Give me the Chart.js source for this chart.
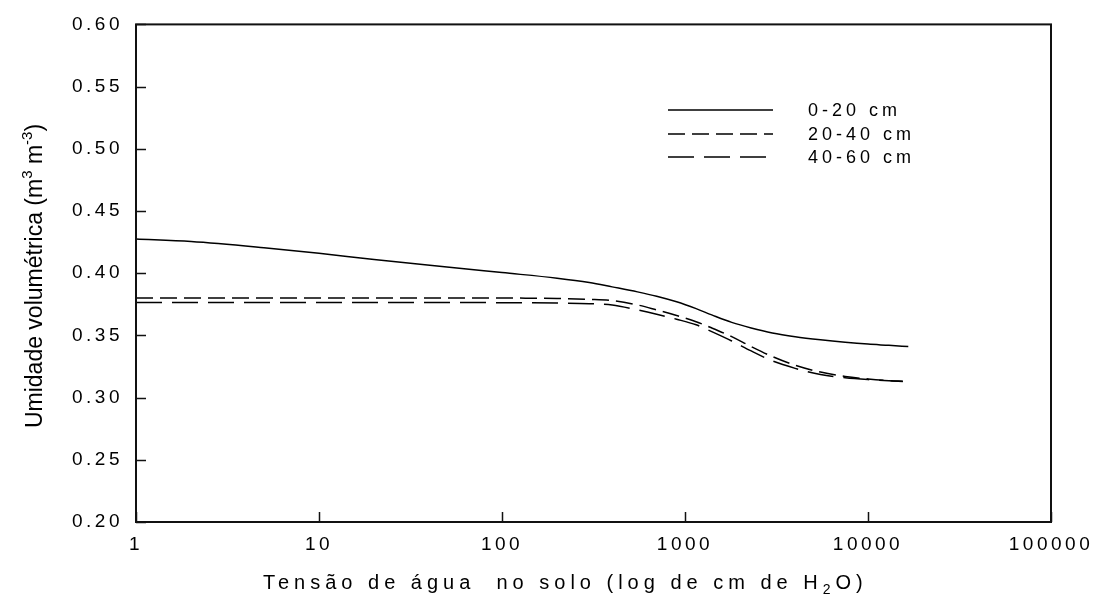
<!DOCTYPE html>
<html>
<head>
<meta charset="utf-8">
<script src="https://cdn.jsdelivr.net/npm/chart.js@4.4.1/dist/chart.umd.min.js"></script>
<style>
  html, body { margin: 0; padding: 0; background: #fff; }
  canvas { display: block; }
</style>
</head>
<body>
<canvas id="c" width="1100" height="600"></canvas>
<script>
// Soil water retention curves by depth
const tensionSolid  = [1, 2, 5, 10, 20, 50, 100, 200, 300, 400, 550, 700, 900, 1150, 1400, 1800, 2300, 3000, 4000, 5500, 7500, 10000, 13000, 16600];
const tensionDashed = [1, 2, 5, 10, 20, 50, 100, 200, 300, 400, 550, 700, 900, 1150, 1400, 1800, 2300, 3000, 4000, 5500, 7500, 10000, 13000, 15500];

const theta0_20  = [0.4275, 0.4255, 0.4205, 0.416, 0.411, 0.405, 0.4005, 0.396, 0.3925, 0.389, 0.385, 0.3815, 0.377, 0.3715, 0.3665, 0.3605, 0.356, 0.352, 0.349, 0.3465, 0.3445, 0.343, 0.342, 0.341];
const theta20_40 = [0.380, 0.380, 0.380, 0.380, 0.380, 0.380, 0.380, 0.3797, 0.379, 0.378, 0.3745, 0.3705, 0.366, 0.361, 0.356, 0.349, 0.341, 0.333, 0.326, 0.3205, 0.317, 0.315, 0.3137, 0.3132];
const theta40_60 = [0.3765, 0.3765, 0.3765, 0.3765, 0.3764, 0.3764, 0.3763, 0.376, 0.3755, 0.3745, 0.3705, 0.367, 0.363, 0.3585, 0.353, 0.3455, 0.3375, 0.3295, 0.3235, 0.3185, 0.316, 0.3145, 0.3135, 0.313];

const seriesLabels = ['0-20 cm', '20-40 cm', '40-60 cm'];
const xTickValues = [1, 10, 100, 1000, 10000, 100000];
const yTickValues = [0.20, 0.25, 0.30, 0.35, 0.40, 0.45, 0.50, 0.55, 0.60];

const FONT = "'Liberation Sans', Arial, sans-serif";

function pts(xs, ys) { return xs.map((x, i) => ({ x: x, y: ys[i] })); }

// Frame, inward tick marks, legend and axis titles
const decorations = {
  id: 'decorations',
  beforeDraw(chart) {
    chart.ctx.letterSpacing = '3.5px';
  },
  afterDraw(chart) {
    const ctx = chart.ctx;
    const a = chart.chartArea;
    const xs = chart.scales.x, ys = chart.scales.y;
    ctx.save();
    ctx.letterSpacing = '0px';
    ctx.strokeStyle = '#111';
    ctx.lineWidth = 2;
    ctx.strokeRect(a.left, a.top, a.right - a.left, a.bottom - a.top);
    ctx.lineWidth = 1.5;
    ctx.beginPath();
    yTickValues.forEach(v => {
      const y = Math.round(ys.getPixelForValue(v)) + 0.5;
      ctx.moveTo(a.left, y); ctx.lineTo(a.left + 10, y);
    });
    xTickValues.forEach(v => {
      const x = Math.round(xs.getPixelForValue(v)) + 0.5;
      ctx.moveTo(x, a.bottom); ctx.lineTo(x, a.bottom - 10);
    });
    ctx.stroke();

    // legend
    const legX1 = 668, legX2 = 773, legText = 808;
    const rows = [110, 134, 157];
    chart.data.datasets.forEach((ds, i) => {
      ctx.save();
      ctx.strokeStyle = '#000';
      ctx.lineWidth = 1.5;
      ctx.setLineDash(ds.borderDash || []);
      ctx.beginPath();
      ctx.moveTo(legX1, rows[i]); ctx.lineTo(legX2, rows[i]);
      ctx.stroke();
      ctx.restore();
      ctx.fillStyle = '#000';
      ctx.font = '18px ' + FONT;
      ctx.letterSpacing = '4px';
      ctx.textBaseline = 'middle';
      ctx.textAlign = 'left';
      ctx.fillText(ds.label, legText, rows[i] + 1);
    });

    // x axis title with subscript
    ctx.fillStyle = '#000';
    ctx.textBaseline = 'alphabetic';
    ctx.textAlign = 'left';
    const big = '20px ' + FONT, small = '14px ' + FONT;
    const partsX = [
      { t: 'Tensão de água  no solo (log de cm de H', f: big, dy: 0 },
      { t: '2', f: small, dy: 5 },
      { t: 'O)', f: big, dy: 0 }
    ];
    ctx.letterSpacing = '5px';
    let cx = 263;
    const by = 589;
    partsX.forEach(p => {
      ctx.font = p.f;
      ctx.fillText(p.t, cx, by + p.dy);
      cx += ctx.measureText(p.t).width;
    });

    // y axis title with superscripts
    ctx.letterSpacing = '0px';
    const bigY = '23px ' + FONT, smallY = '15px ' + FONT;
    const partsY = [
      { t: 'Umidade volumétrica (m', f: bigY, dy: 0 },
      { t: '3', f: smallY, dy: -10 },
      { t: ' m', f: bigY, dy: 0 },
      { t: '-3', f: smallY, dy: -10 },
      { t: ')', f: bigY, dy: 0 }
    ];
    let wy = 0;
    partsY.forEach(p => { ctx.font = p.f; wy += ctx.measureText(p.t).width; });
    ctx.translate(42, 276);
    ctx.rotate(-Math.PI / 2);
    let cy = -wy / 2;
    partsY.forEach(p => {
      ctx.font = p.f;
      ctx.fillText(p.t, cy, p.dy);
      cy += ctx.measureText(p.t).width;
    });
    ctx.restore();
  }
};

new Chart(document.getElementById('c'), {
  type: 'line',
  data: {
    datasets: [
      { label: seriesLabels[0], data: pts(tensionSolid, theta0_20), borderColor: '#000', borderWidth: 1.5, borderDash: [] },
      { label: seriesLabels[1], data: pts(tensionDashed, theta20_40), borderColor: '#000', borderWidth: 1.5, borderDash: [17, 7] },
      { label: seriesLabels[2], data: pts(tensionDashed, theta40_60), borderColor: '#000', borderWidth: 1.5, borderDash: [26, 10] }
    ]
  },
  options: {
    responsive: false,
    animation: false,
    layout: { padding: { top: 21, right: 49, left: 0, bottom: 0 } },
    elements: {
      point: { radius: 0 },
      line: { cubicInterpolationMode: 'monotone', fill: false }
    },
    plugins: { legend: { display: false }, tooltip: { enabled: false } },
    scales: {
      x: {
        type: 'logarithmic',
        min: 1, max: 100000,
        border: { display: false },
        grid: { display: false, drawTicks: false },
        afterBuildTicks: s => { s.ticks = xTickValues.map(v => ({ value: v })); },
        afterFit: s => { s.height = 78; },
        ticks: {
          color: '#000',
          font: { family: FONT, size: 19 },
          padding: 11,
          maxRotation: 0,
          autoSkip: false,
          callback: v => String(v)
        }
      },
      y: {
        min: 0.20, max: 0.60,
        border: { display: false },
        grid: { display: false, drawTicks: false },
        afterBuildTicks: s => { s.ticks = yTickValues.map(v => ({ value: v })); },
        afterFit: s => { s.width = 136; },
        ticks: {
          color: '#000',
          font: { family: FONT, size: 19 },
          padding: 13,
          callback: v => Number(v).toFixed(2)
        }
      }
    }
  },
  plugins: [decorations]
});
</script>
</body>
</html>
